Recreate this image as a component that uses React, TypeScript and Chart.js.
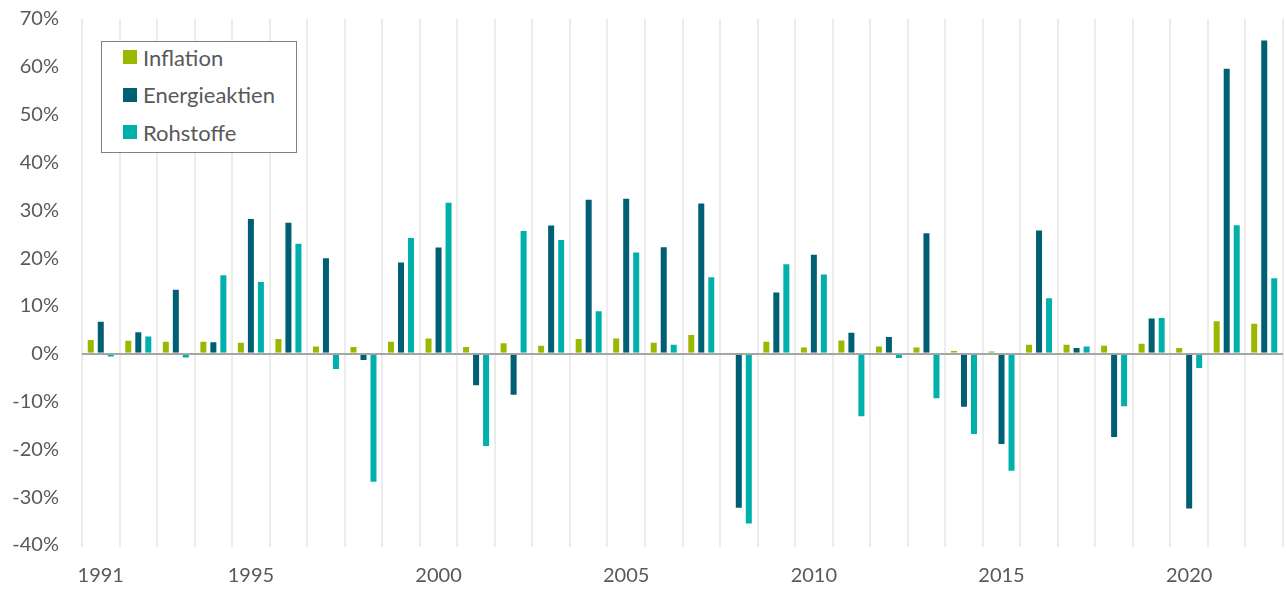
import React, { useEffect, useRef } from "react";
import { Chart, registerables } from "chart.js";

Chart.register(...registerables);

const years = [
  "1991", "1992", "1993", "1994", "1995", "1996", "1997", "1998", "1999", "2000",
  "2001", "2002", "2003", "2004", "2005", "2006", "2007", "2008", "2009", "2010",
  "2011", "2012", "2013", "2014", "2015", "2016", "2017", "2018", "2019", "2020",
  "2021", "2022",
];
const shownYearLabels = ["1991", "1995", "2000", "2005", "2010", "2015", "2020"];

const inflation = [
  3.1, 2.9, 2.7, 2.7, 2.5, 3.3, 1.7, 1.6, 2.7, 3.4,
  1.6, 2.4, 1.9, 3.3, 3.4, 2.5, 4.1, 0.1, 2.7, 1.5,
  3.0, 1.7, 1.5, 0.8, 0.7, 2.1, 2.1, 1.9, 2.3, 1.4,
  7.0, 6.5,
];
const energieaktien = [
  6.9, 4.7, 13.6, 2.6, 28.4, 27.6, 20.2, -1.5, 19.3, 22.4,
  -6.8, -8.8, 27.0, 32.4, 32.6, 22.5, 31.6, -32.4, 13.0, 20.9,
  4.6, 3.7, 25.4, -11.3, -19.1, 26.0, 1.4, -17.6, 7.6, -32.6,
  59.8, 65.7,
];
const rohstoffe = [
  -0.8, 3.8, -1.0, 16.6, 15.2, 23.2, -3.4, -27.0, 24.4, 31.8,
  -19.5, 25.9, 24.0, 9.1, 21.4, 2.1, 16.2, -35.7, 18.9, 16.8,
  -13.3, -1.1, -9.5, -17.0, -24.7, 11.8, 1.7, -11.2, 7.7, -3.2,
  27.1, 16.0,
];
const yTicks = [70, 60, 50, 40, 30, 20, 10, 0, -10, -20, -30, -40];

const seriesNames = ["Inflation", "Energieaktien", "Rohstoffe"];
const seriesColors = ["#9bb800", "#005f73", "#00b0aa"];

const FONT = "Lato, 'Liberation Sans', sans-serif";
const TEXT = "#595959";

export default function App() {
  const ref = useRef<HTMLCanvasElement | null>(null);

  useEffect(() => {
    if (!ref.current) return;
    const chart = new Chart(ref.current, {
      type: "bar",
      data: {
        labels: years,
        datasets: [inflation, energieaktien, rohstoffe].map((d, i) => ({
          label: seriesNames[i],
          data: d,
          backgroundColor: seriesColors[i],
          borderColor: "rgba(255,255,255,0.35)",
          borderWidth: 1,
          categoryPercentage: 0.8,
          barPercentage: 0.8,
        })),
      },
      options: {
        animation: false,
        responsive: false,
        maintainAspectRatio: false,
        layout: { padding: { top: 19, right: 3, bottom: 0, left: 0 } },
        plugins: {
          legend: { display: false },
          title: { display: false },
          tooltip: { enabled: false },
        },
        scales: {
          x: {
            offset: true,
            grid: {
              offset: true,
              color: "#ececec",
              lineWidth: 2,
              drawTicks: true,
              tickLength: 2,
            },
            border: { display: false },
            ticks: {
              autoSkip: false,
              maxRotation: 0,
              padding: 17,
              color: TEXT,
              font: { family: FONT, size: 20 },
              callback: function (this: any, _v: any, idx: number) {
                const y = years[idx];
                return shownYearLabels.includes(y) ? y : "";
              },
            },
            afterFit: (s: any) => {
              s.height = 45;
              s.paddingLeft = 0;
              s.paddingRight = 0;
            },
          },
          y: {
            min: -40,
            max: 70,
            afterBuildTicks: (s: any) => {
              s.ticks = yTicks.map((v) => ({ value: v }));
            },
            grid: {
              drawTicks: false,
              tickLength: 0,
              color: (ctx: any) => (ctx.tick && ctx.tick.value === 0 ? "#a6a6a6" : "rgba(0,0,0,0)"),
              lineWidth: 2,
            },
            border: { display: false },
            ticks: {
              padding: 23,
              color: TEXT,
              font: { family: FONT, size: 20 },
              callback: (v: any) => `${v}%`,
            },
            afterFit: (s: any) => {
              s.width = 82;
              s.paddingTop = 0;
              s.paddingBottom = 0;
            },
          },
        },
      },
    });
    return () => chart.destroy();
  }, []);

  return (
    <div style={{ position: "fixed", left: 0, top: 0, width: 1286, height: 590, background: "#fff" }}>
      <canvas ref={ref} width={1286} height={590} style={{ width: 1286, height: 590, display: "block" }} />
      <div
        style={{
          position: "absolute",
          left: 101,
          top: 41,
          width: 196,
          height: 112,
          boxSizing: "border-box",
          border: "1.5px solid #808080",
          background: "#fff",
          fontFamily: FONT,
          fontSize: 22,
          color: TEXT,
        }}
      >
        {seriesNames.map((n, i) => (
          <div
            key={n}
            style={{
              position: "absolute",
              left: 21,
              top: 2 + i * 37.5,
              height: 26,
              display: "flex",
              alignItems: "center",
              whiteSpace: "nowrap",
            }}
          >
            <span style={{ display: "inline-block", width: 14, height: 14, background: seriesColors[i], marginRight: 6 }} />
            <span>{n}</span>
          </div>
        ))}
      </div>
    </div>
  );
}
